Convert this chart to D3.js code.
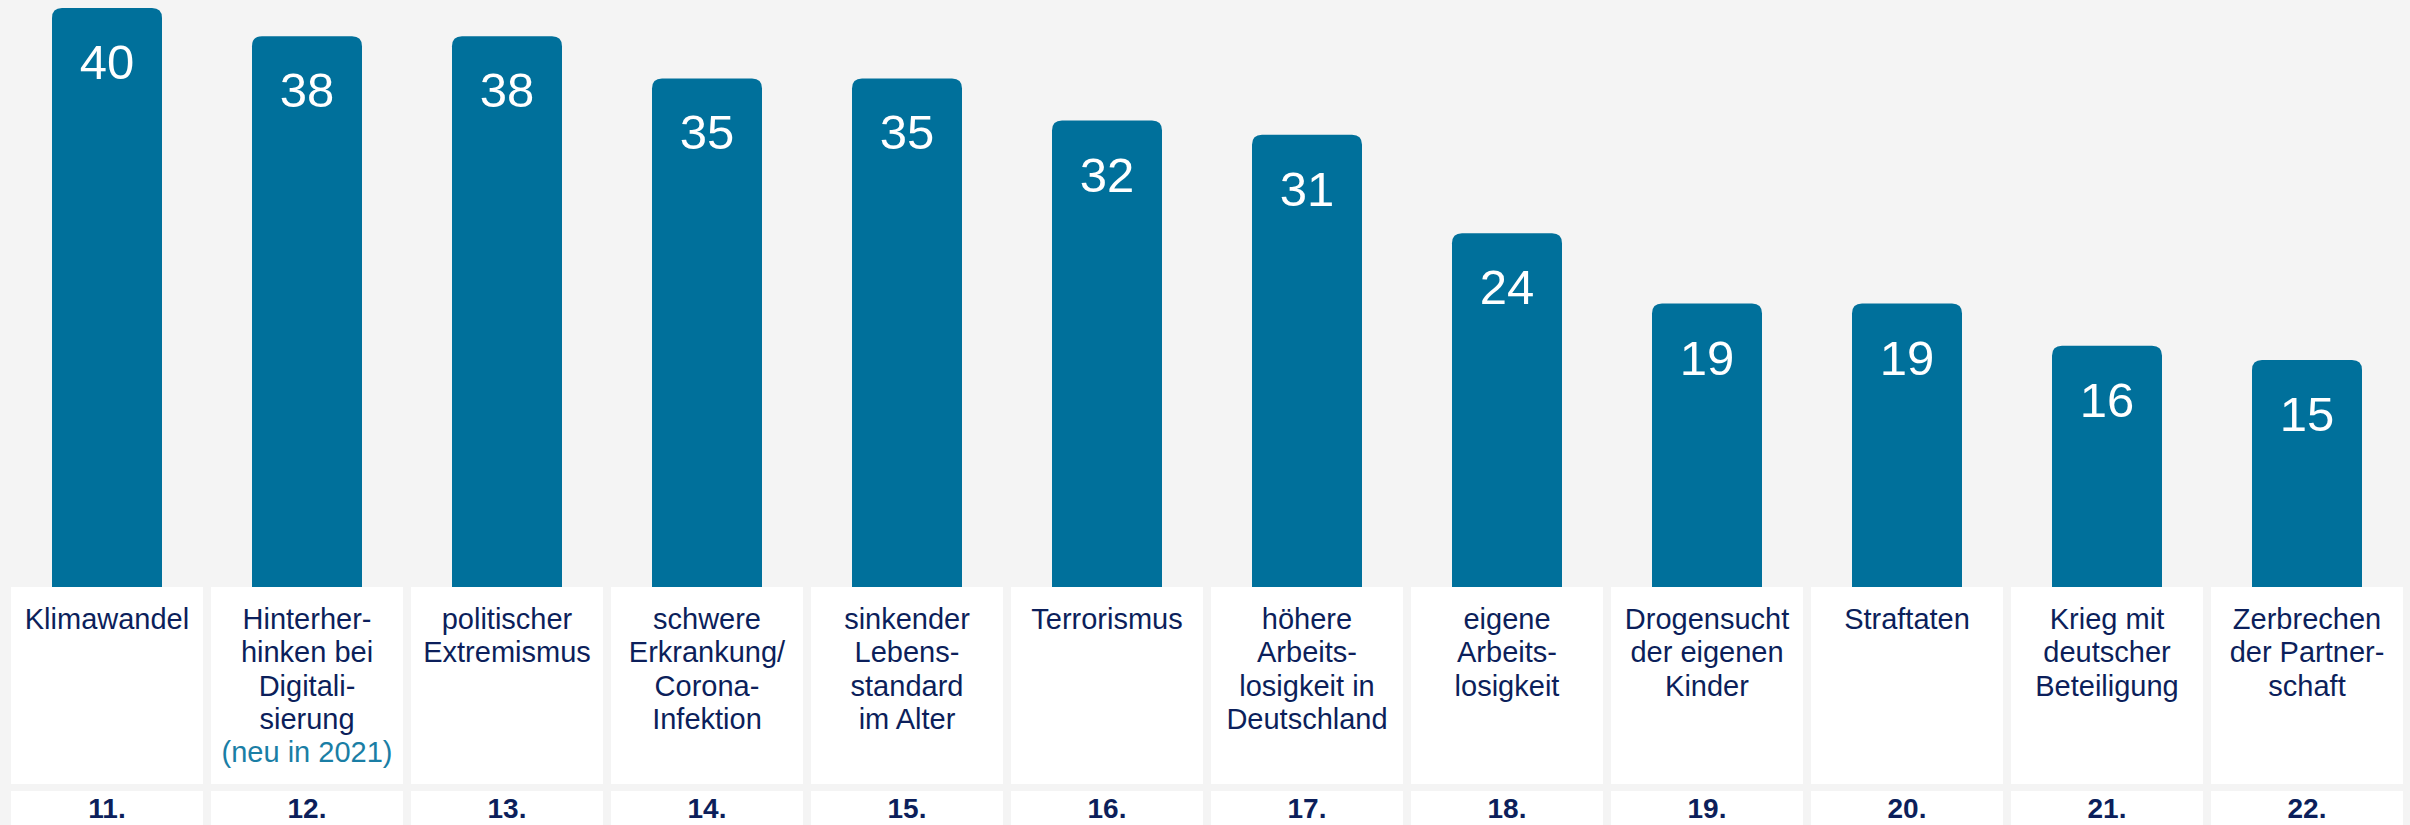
<!DOCTYPE html>
<html>
<head>
<meta charset="utf-8">
<script src="https://cdn.jsdelivr.net/npm/d3@7"></script>
<style>
  html, body { margin: 0; padding: 0; background: #f4f4f4; }
  svg { display: block; }
  text { font-family: "Liberation Sans", Arial, sans-serif; }
</style>
</head>
<body>
<svg id="chart" width="2410" height="825"></svg>
<script>
// ---- data ----
const categories = [
  "Klimawandel",
  "Hinterherhinken bei Digitalisierung",
  "politischer Extremismus",
  "schwere Erkrankung/Corona-Infektion",
  "sinkender Lebensstandard im Alter",
  "Terrorismus",
  "höhere Arbeitslosigkeit in Deutschland",
  "eigene Arbeitslosigkeit",
  "Drogensucht der eigenen Kinder",
  "Straftaten",
  "Krieg mit deutscher Beteiligung",
  "Zerbrechen der Partnerschaft"
];
const values = [40, 38, 38, 35, 35, 32, 31, 24, 19, 19, 16, 15];
const ranks = ["11.", "12.", "13.", "14.", "15.", "16.", "17.", "18.", "19.", "20.", "21.", "22."];
const labelLines = [
  ["Klimawandel"],
  ["Hinterher-", "hinken bei", "Digitali-", "sierung"],
  ["politischer", "Extremismus"],
  ["schwere", "Erkrankung/", "Corona-", "Infektion"],
  ["sinkender", "Lebens-", "standard", "im Alter"],
  ["Terrorismus"],
  ["höhere", "Arbeits-", "losigkeit in", "Deutschland"],
  ["eigene", "Arbeits-", "losigkeit"],
  ["Drogensucht", "der eigenen", "Kinder"],
  ["Straftaten"],
  ["Krieg mit", "deutscher", "Beteiligung"],
  ["Zerbrechen", "der Partner-", "schaft"]
];
const notes = ["", "(neu in 2021)", "", "", "", "", "", "", "", "", "", ""];

// ---- layout ----
const svg = d3.select("#chart");
const barColor = "#00709b";
const navy = "#0c1f5b";
const teal = "#1a7ea5";

const x = d3.scaleBand().domain(categories).range([7, 2407]).paddingInner(0).paddingOuter(0);
const y = d3.scaleLinear().domain([0, 40]).range([571, 8]);
const barBottom = 587;
const barW = 110;
const r = 10;

svg.append("rect").attr("width", 2410).attr("height", 825).attr("fill", "#f4f4f4");

function topRounded(x0, y0, w, yb, rad) {
  return `M${x0},${yb} L${x0},${y0 + rad} Q${x0},${y0} ${x0 + rad},${y0} L${x0 + w - rad},${y0} Q${x0 + w},${y0} ${x0 + w},${y0 + rad} L${x0 + w},${yb} Z`;
}

const g = svg.append("g");
const data = categories.map((c, i) => ({ c, v: values[i], rank: ranks[i], lines: labelLines[i], note: notes[i] }));

// bars
g.selectAll("path.bar").data(data).join("path")
  .attr("class", "bar")
  .attr("fill", barColor)
  .attr("d", d => {
    const cx = x(d.c) + x.bandwidth() / 2;
    return topRounded(cx - barW / 2, y(d.v), barW, barBottom, r);
  });

// value labels
g.selectAll("text.val").data(data).join("text")
  .attr("class", "val")
  .attr("x", d => x(d.c) + x.bandwidth() / 2)
  .attr("y", d => y(d.v) + 71)
  .attr("text-anchor", "middle")
  .attr("fill", "#ffffff")
  .attr("font-size", 49)
  .text(d => d.v);

// label boxes
g.selectAll("rect.lbox").data(data).join("rect")
  .attr("class", "lbox")
  .attr("x", d => x(d.c) + 4)
  .attr("y", 587)
  .attr("width", x.bandwidth() - 8)
  .attr("height", 197)
  .attr("fill", "#ffffff");

// rank boxes
g.selectAll("rect.rbox").data(data).join("rect")
  .attr("class", "rbox")
  .attr("x", d => x(d.c) + 4)
  .attr("y", 791)
  .attr("width", x.bandwidth() - 8)
  .attr("height", 60)
  .attr("fill", "#ffffff");

// category labels
const lab = g.selectAll("text.cat").data(data).join("text")
  .attr("class", "cat")
  .attr("text-anchor", "middle")
  .attr("font-size", 29)
  .attr("fill", navy);
lab.each(function(d) {
  const t = d3.select(this);
  const cx = x(d.c) + x.bandwidth() / 2;
  d.lines.forEach((ln, j) => {
    t.append("tspan").attr("x", cx).attr("y", 629 + j * 33.3).text(ln);
  });
  if (d.note) {
    t.append("tspan").attr("x", cx).attr("y", 629 + d.lines.length * 33.3)
      .attr("fill", teal).text(d.note);
  }
});

// rank labels
g.selectAll("text.rank").data(data).join("text")
  .attr("class", "rank")
  .attr("x", d => x(d.c) + x.bandwidth() / 2)
  .attr("y", 818)
  .attr("text-anchor", "middle")
  .attr("font-size", 28)
  .attr("font-weight", "bold")
  .attr("fill", navy)
  .text(d => d.rank);
</script>
</body>
</html>
